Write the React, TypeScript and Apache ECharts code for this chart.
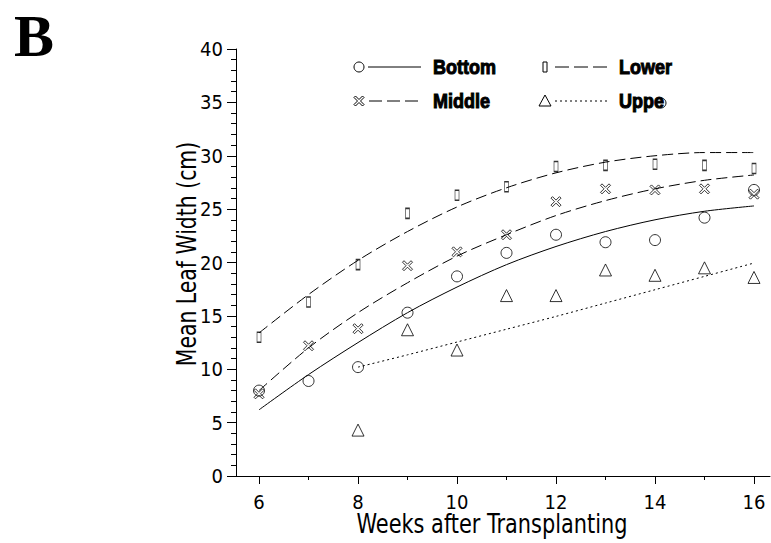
import React, { useEffect, useRef } from "react";
import * as echarts from "echarts";

const weeks = [6, 7, 8, 9, 10, 11, 12, 13, 14, 15, 16];
const upperWeeks = [8, 9, 10, 11, 12, 13, 14, 15, 16];

const bottomObs = [8.0, 8.9, 10.2, 15.3, 18.7, 20.9, 22.6, 21.9, 22.1, 24.2, 26.8];
const lowerObs = [13.0, 16.3, 19.8, 24.6, 26.3, 27.1, 29.0, 29.1, 29.2, 29.1, 28.8];
const middleObs = [7.7, 12.2, 13.8, 19.7, 21.0, 22.6, 25.7, 26.9, 26.8, 26.9, 26.4];
const upperObs = [4.3, 13.7, 11.8, 16.9, 16.9, 19.3, 18.8, 19.5, 18.6];

const bottomFit = [6.2, 9.5, 12.5, 15.3, 17.7, 19.8, 21.5, 22.9, 24.0, 24.8, 25.3];
const lowerFit = [13.4, 17.0, 20.2, 22.9, 25.2, 27.0, 28.4, 29.4, 30.0, 30.3, 30.3];
const middleFit = [8.0, 12.0, 15.3, 18.1, 20.6, 22.6, 24.4, 25.8, 26.9, 27.7, 28.2];
const upperFit = [10.2, 11.35, 12.55, 13.75, 14.95, 16.2, 17.45, 18.7, 19.95];

const xMajorTicks = [6, 8, 10, 12, 14, 16];
const xMinorTicks = [7, 9, 11, 13, 15];

const legendNames = ["Bottom", "Lower", "Middle", "Uppe"];
const xTitle = "Weeks after Transplanting";
const yTitle = "Mean Leaf Width (cm)";

const narrow = "'Liberation Sans Narrow', 'DejaVu Sans Condensed', sans-serif";
const X_MARK =
  "path://M0,1.5 L1.5,0 L5,3.5 L8.5,0 L10,1.5 L6.5,5 L10,8.5 L8.5,10 L5,6.5 L1.5,10 L0,8.5 L3.5,5 Z";
const RECT_MARK = "path://M0,0 L4,0 L4,10 L0,10 Z";

const pairs = (xs: number[], ys: number[]) => xs.map((x, i) => [x, ys[i]]);

export default function App() {
  const ref = useRef<HTMLDivElement>(null);
  useEffect(() => {
    if (!ref.current) return;
    const chart = echarts.init(ref.current, undefined, { renderer: "svg" });
    const hollow = { color: "rgba(0,0,0,0)", borderColor: "#000", borderWidth: 1 };
    const xmin = 5.535;
    const xmax = 16.323;
    const legendFont = "bold 20px 'Liberation Sans', Arial, sans-serif";
    const lg = (x: number, y: number, text: string) => ({
      type: "text",
      x,
      y,
      scaleX: 0.9,
      style: {
        x: 0,
        y: 0,
        text,
        font: legendFont,
        fill: "#000",
        stroke: "#000",
        lineWidth: 1,
        textVerticalAlign: "middle",
      },
    });
    const xPts = (cx: number, cy: number) => {
      const p = [
        [0, 1.5], [1.5, 0], [5, 3.5], [8.5, 0], [10, 1.5], [6.5, 5],
        [10, 8.5], [8.5, 10], [5, 6.5], [1.5, 10], [0, 8.5], [3.5, 5],
      ];
      return p.map(([a, b]) => [cx - 5 + a, cy - 5 + b]);
    };
    const titleFont = `27px ${narrow}`;
    chart.setOption({
      animation: false,
      backgroundColor: "#fff",
      grid: { left: 236, right: 1, top: 49, bottom: 67, containLabel: false },
      xAxis: [
        {
          type: "value",
          min: xmin,
          max: xmax,
          axisLine: { show: true, lineStyle: { color: "#000", width: 1 } },
          axisTick: { show: true, length: 8, customValues: xMajorTicks, lineStyle: { color: "#000" } },
          axisLabel: {
            customValues: xMajorTicks,
            fontFamily: narrow,
            fontSize: 20,
            color: "#000",
            margin: 16,
          },
          splitLine: { show: false },
        },
        {
          type: "value",
          position: "bottom",
          min: xmin,
          max: xmax,
          axisLine: { show: false },
          axisTick: { show: true, length: 4, customValues: xMinorTicks, lineStyle: { color: "#000" } },
          axisLabel: { show: false },
          splitLine: { show: false },
        },
      ],
      yAxis: {
        type: "value",
        min: 0,
        max: 40,
        interval: 5,
        axisLine: { show: true, lineStyle: { color: "#000", width: 1 } },
        axisTick: { show: true, length: 9, lineStyle: { color: "#000" } },
        minorTick: { show: true, splitNumber: 5, length: 5, lineStyle: { color: "#000" } },
        axisLabel: { fontFamily: narrow, fontSize: 20, color: "#000", margin: 13 },
        splitLine: { show: false },
      },
      series: [
        {
          type: "line",
          data: pairs(weeks, bottomFit),
          smooth: 0.3,
          showSymbol: false,
          lineStyle: { color: "#000", width: 1 },
        },
        {
          type: "line",
          data: pairs(weeks, lowerFit),
          smooth: 0.3,
          showSymbol: false,
          lineStyle: { color: "#000", width: 1, type: [11, 5] },
        },
        {
          type: "line",
          data: pairs(weeks, middleFit),
          smooth: 0.3,
          showSymbol: false,
          lineStyle: { color: "#000", width: 1, type: [11, 5] },
        },
        {
          type: "line",
          data: pairs(upperWeeks, upperFit),
          smooth: 0.3,
          showSymbol: false,
          lineStyle: { color: "#000", width: 1, type: [2, 3] },
        },
        {
          type: "scatter",
          name: legendNames[0],
          data: pairs(weeks, bottomObs),
          symbol: "circle",
          symbolSize: 11,
          itemStyle: hollow,
        },
        {
          type: "scatter",
          name: legendNames[1],
          data: pairs(weeks, lowerObs),
          symbol: RECT_MARK,
          symbolSize: [4, 10],
          symbolKeepAspect: false,
          itemStyle: hollow,
        },
        {
          type: "scatter",
          name: legendNames[2],
          data: pairs(weeks, middleObs),
          symbol: X_MARK,
          symbolSize: 10,
          itemStyle: hollow,
        },
        {
          type: "scatter",
          name: legendNames[3],
          data: pairs(upperWeeks, upperObs),
          symbol: "triangle",
          symbolSize: 12,
          itemStyle: hollow,
        },
      ],
      graphic: [
        {
          type: "text",
          style: {
            x: 14,
            y: 6,
            text: "B",
            font: "bold 60px 'Liberation Serif', 'DejaVu Serif', serif",
            fill: "#000",
          },
        },
        {
          type: "text",
          x: 492,
          y: 524,
          scaleX: 0.86,
          style: { x: 0, y: 0, text: xTitle, font: titleFont, fill: "#000", textAlign: "center", textVerticalAlign: "middle" },
        },
        {
          type: "text",
          x: 187,
          y: 254,
          rotation: Math.PI / 2,
          scaleX: 0.84,
          style: { x: 0, y: 0, text: yTitle, font: titleFont, fill: "#000", textAlign: "center", textVerticalAlign: "middle" },
        },
        // Bottom
        { type: "circle", shape: { cx: 359, cy: 67, r: 5 }, style: { fill: "none", stroke: "#000", lineWidth: 1 } },
        { type: "line", shape: { x1: 368, y1: 67, x2: 421, y2: 67 }, style: { stroke: "#000", lineWidth: 1 } },
        lg(433, 67, legendNames[0]),
        // Lower
        { type: "rect", shape: { x: 543, y: 62, width: 4, height: 10 }, style: { fill: "none", stroke: "#000", lineWidth: 1 } },
        { type: "line", shape: { x1: 555, y1: 67, x2: 607, y2: 67 }, style: { stroke: "#000", lineWidth: 1, lineDash: [14, 5] } },
        lg(619, 67, legendNames[1]),
        // Middle
        { type: "polygon", shape: { points: xPts(359, 101) }, style: { fill: "none", stroke: "#000", lineWidth: 1 } },
        { type: "line", shape: { x1: 369, y1: 101, x2: 418, y2: 101 }, style: { stroke: "#000", lineWidth: 1, lineDash: [13, 5] } },
        lg(433, 101, legendNames[2]),
        // Upper
        { type: "polygon", shape: { points: [[545, 95], [551, 106], [539, 106]] }, style: { fill: "none", stroke: "#000", lineWidth: 1 } },
        { type: "line", shape: { x1: 555, y1: 101, x2: 607, y2: 101 }, style: { stroke: "#000", lineWidth: 1, lineDash: [2, 3] } },
        lg(619, 101, legendNames[3]),
        { type: "circle", shape: { cx: 661, cy: 103, r: 5 }, style: { fill: "none", stroke: "#000", lineWidth: 1 } },
      ],
    });
    return () => chart.dispose();
  }, []);
  return (
    <div
      ref={ref}
      style={{ position: "fixed", left: 0, top: 0, width: 771, height: 543, background: "#fff" }}
    />
  );
}
